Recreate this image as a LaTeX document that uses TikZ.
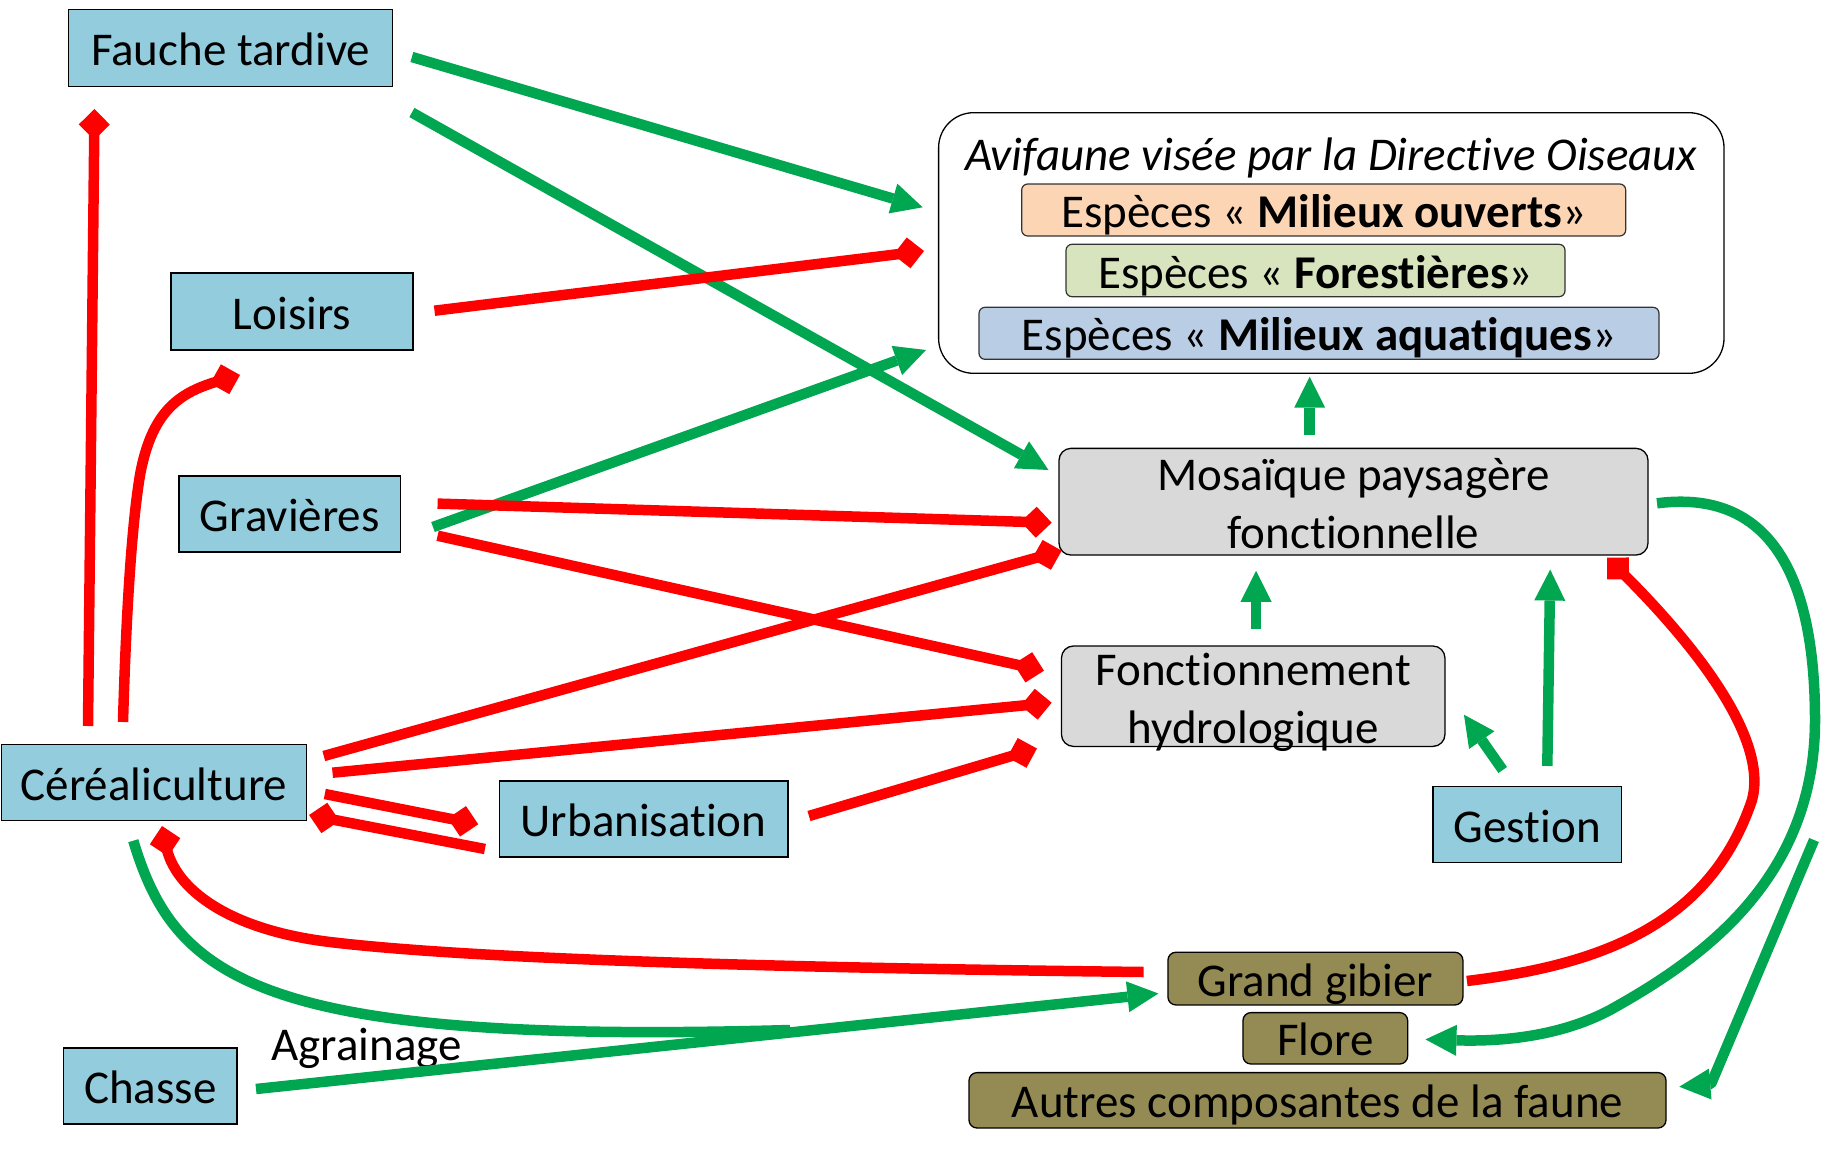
\documentclass[tikz,border=0pt]{standalone}
\usepackage{fontspec}
\setmainfont{Carlito}[Ligatures={TeX,NoCommon}]
\usetikzlibrary{arrows.meta}
\definecolor{boxblue}{HTML}{93CDDD}
\definecolor{grn}{HTML}{00A650}
\definecolor{rd}{HTML}{FF0000}
\definecolor{ouvfill}{HTML}{FCD5B5}
\definecolor{forfill}{HTML}{D7E4BD}
\definecolor{aqufill}{HTML}{B9CDE5}
\definecolor{greyfill}{HTML}{D9D9D9}
\definecolor{olivefill}{HTML}{948A54}
\begin{document}
\begin{tikzpicture}[x=1pt,y=-1pt,
  every node/.style={font=\fontsize{47}{57.5}\selectfont, inner sep=0pt, outer sep=0pt},
  bluebox/.style={draw=black, line width=1.5pt, fill=boxblue, text height=35pt, text depth=0pt},
  avibox/.style={draw=black, line width=1.3pt, rounded corners=35pt, text height=35pt},
  spbox/.style={draw=black!80, line width=1.2pt, rounded corners=6pt, text height=35pt, text depth=0pt},
  greybox/.style={draw=black, line width=1.3pt, fill=greyfill, rounded corners=12pt, align=center, text depth=0pt},
  olivebox/.style={draw=black, line width=1.3pt, fill=olivefill, rounded corners=8pt, text height=35pt, text depth=0pt},
  gline/.style={draw=grn, line width=10.5pt, -{Triangle[length=31pt,width=31pt,line width=0pt]}},
  gplain/.style={draw=grn, line width=10.5pt},
  rline/.style={draw=rd, line width=10.5pt, -{Diamond[length=31pt,width=31pt,line width=0pt]}}
]
\useasboundingbox (0,0) rectangle (1831,1159);

% boxes
\node[bluebox, minimum width=324pt, minimum height=77pt] (fauche) at (230.6,47.9) {Fauche tardive};
\node[bluebox, minimum width=242pt, minimum height=77pt] (loisirs) at (292,311.5) {Loisirs};
\node[bluebox, minimum width=221.6pt, minimum height=76pt] (gravieres) at (289.8,514) {Gravières};
\node[bluebox, minimum width=305pt, minimum height=76pt] (cereal) at (154,782.5) {Céréaliculture};
\node[bluebox, minimum width=288.7pt, minimum height=76.3pt] (urban) at (643.6,819) {Urbanisation};
\node[bluebox, minimum width=173.4pt, minimum height=76.4pt] (chasse) at (150.3,1086) {Chasse};
\node[bluebox, minimum width=188.7pt, minimum height=76.2pt] (gestion) at (1527.3,824.6) {Gestion};

\node[avibox, minimum width=785.4pt, minimum height=260.6pt, text depth=181pt] (avifaune) at (1331.3,243) {\itshape Avifaune visée par la Directive Oiseaux};
\node[spbox, fill=ouvfill, minimum width=604pt, minimum height=52pt] (ouverts) at (1323.7,210) {Espèces « \textbf{Milieux ouverts}»};
\node[spbox, fill=forfill, minimum width=499pt, minimum height=52.4pt] (forest) at (1315.5,270.5) {Espèces « \textbf{Forestières}»};
\node[spbox, fill=aqufill, minimum width=680pt, minimum height=52pt] (aquat) at (1319,333.3) {Espèces « \textbf{Milieux aquatiques}»};

\node[greybox, minimum width=589pt, minimum height=106.7pt, text height=92.6pt] (mosaique) at (1353.5,501.7) {Mosaïque paysagère\\fonctionnelle};
\node[greybox, minimum width=383.5pt, minimum height=100.4pt, text height=94.2pt] (fonct) at (1253.2,696.2) {Fonctionnement\\hydrologique};

\node[olivebox, minimum width=295pt, minimum height=52.7pt] (gibier) at (1315.4,978.6) {Grand gibier};
\node[olivebox, minimum width=164.7pt, minimum height=51.4pt] (flore) at (1325.3,1038.3) {Flore};
\node[olivebox, minimum width=697pt, minimum height=55.4pt] (autres) at (1317.5,1100.3) {Autres composantes de la faune};

\node[anchor=base west] (agrainage) at (271.5,1060) {Agrainage};

\coordinate (branch) at (1814,840);
\coordinate (merge) at (790,1030);

% green connectors
\draw[gline] ([shift={(19.3,9.1)}]fauche.east) -- ([shift={(-15.9,-35.7)}]avifaune.west);
\draw[gline] ([shift={(19.3,64.6)}]fauche.east) -- ([shift={(-10.5,-31.7)}]mosaique.west);
\draw[gline] ([shift={(32.4,13)}]gravieres.east) -- ([shift={(-12.6,107)}]avifaune.west);
\draw[gline] ([shift={(-43.8,-13.3)}]mosaique.north) -- ([shift={(-21.6,3.4)}]avifaune.south);
\draw[gline] ([shift={(2.8,-17.2)}]fonct.north) -- ([shift={(-97.5,15.7)}]mosaique.south);
\draw[gline] ([shift={(20,-20.5)}]gestion.north) -- ([shift={(196.7,14.5)}]mosaique.south);
\draw[gline] ([shift={(-24.6,-16.5)}]gestion.north) -- ([shift={(19,18.5)}]fonct.east);
\draw[gline] ([shift={(9,1.6)}]mosaique.east) .. controls (1760,490) and (1815,560) .. (1815,720)
   .. controls (1815,880) and (1700,960) .. (1610,1010)
   .. controls (1550,1042) and (1480,1041) .. ([shift={(17.8,1.1)}]flore.east);
\draw[gline, line join=bevel] (branch) -- (1711,1084) -- ([shift={(13.3,-13.6)}]autres.east);
\draw[gline] ([shift={(19,3)}]chasse.east) -- ([shift={(-9.5,14.9)}]gibier.west);
\draw[gplain] ([shift={(-20.7,20.2)}]cereal.south) .. controls (175,980) and (260,1045) .. (merge);

% red connectors
\draw[rline] ([shift={(-66,-18.5)}]cereal.north) -- ([shift={(-136.1,22.6)}]fauche.south);
\draw[rline] ([shift={(-31,-22.5)}]cereal.north) .. controls (126,620) and (131,530) .. (140,475)
   .. controls (152,410) and (180,392) .. ([shift={(-52,25)}]loisirs.south);
\draw[rline] ([shift={(21.5,-0.8)}]loisirs.east) -- ([shift={(-14.6,8)}]avifaune.west);
\draw[rline] ([shift={(37,-10.4)}]gravieres.east) -- ([shift={(-7.3,21)}]mosaique.west);
\draw[rline] ([shift={(37,21.7)}]gravieres.east) -- ([shift={(-17.5,-25.5)}]fonct.west);
\draw[rline] ([shift={(17.3,-26.5)}]cereal.east) -- ([shift={(2.7,49)}]mosaique.west);
\draw[rline] ([shift={(26,-9.8)}]cereal.east) -- ([shift={(-9.8,6.5)}]fonct.west);
\draw[rline] ([shift={(21,-3)}]urban.east) -- ([shift={(-24.5,52.3)}]fonct.west);
\draw[rline] ([shift={(18.3,11.5)}]cereal.east) -- ([shift={(-21,5.3)}]urban.west);
\draw[rline] ([shift={(-14.3,30)}]urban.west) -- ([shift={(2.6,32.5)}]cereal.east);
\draw[rline] ([shift={(-24.3,-6.6)}]gibier.west) .. controls (800,968) and (480,960) .. (330,942)
   .. controls (230,930) and (175,890) .. ([shift={(8,5.5)}]cereal.south);
\draw[rline] ([shift={(4,2.4)}]gibier.east) .. controls (1600,965) and (1710,925) .. (1752,800)
   .. controls (1768,740) and (1700,650) .. ([shift={(-41,2.5)}]mosaique.south east);
\end{tikzpicture}
\end{document}
